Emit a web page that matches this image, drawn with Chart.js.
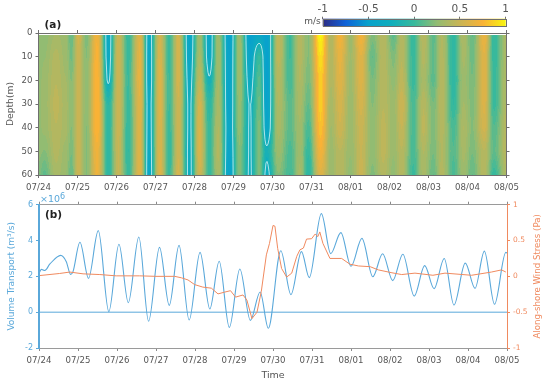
<!DOCTYPE html>
<html>
<head>
<meta charset="utf-8">
<title>Velocity and volume transport</title>
<script src="https://cdn.jsdelivr.net/npm/chart.js@4"></script>
<style>
    body { margin: 0; background: #fff; }
    canvas { position: absolute; left: 0; }
</style>
</head>
<body>
<canvas id="graficoA" width="550" height="197" style="top:0"></canvas>
<canvas id="graficoB" width="550" height="191" style="top:190px"></canvas>
<canvas id="barraCor" width="550" height="30" style="top:0"></canvas>
<script>
// labels of the time axis, one per day
const dateLabels = ['07/24', '07/25', '07/26', '07/27', '07/28', '07/29', '07/30', '07/31', '08/01', '08/02', '08/03', '08/04', '08/05'];

// panel (a): velocity read at each stripe of the picture (days since 07/24, depth in m)
const heatDays = [0, .15, .45, .7, .84, 1.02, 1.23, 1.5, 1.79, 2.05, 2.3, 2.6, 2.83, 3.11, 3.35, 3.59, 3.87, 4.13, 4.38, 4.61, 4.89, 5.15, 5.42, 5.66, 5.85, 6.15, 6.45, 6.7, 6.92, 7.23, 7.5, 7.73, 8, 8.27, 8.56, 8.84, 9.1, 9.31, 9.61, 9.87, 10.12, 10.34, 10.64, 10.9, 11.12, 11.43, 11.68, 12];
const depths = [1, 10, 20, 30, 40, 50, 60];
const speedAt1m = [.25, .25, .33, .3, .12, .55, .2, .72, -.38, .5, -.02, .62, -.38, .55, 0, .55, -.45, .3, -.42, .3, -.5, .3, -.5, -.4, -.5, .45, .02, .42, .22, 1, .38, .72, .3, .72, .2, .42, .1, .4, -.02, .42, .1, .38, -.05, .38, .12, .68, -.02, .35];
const speedAt10m = [.25, .27, .4, .3, .16, .5, .22, .75, -.36, .52, 0, .65, -.4, .58, 0, .55, -.42, .35, -.4, .32, -.48, .32, -.45, 0, -.5, .45, .02, .4, .22, .92, .4, .65, .32, .62, .12, .42, .2, .42, 0, .4, .12, .4, -.05, .35, .15, .62, -.02, .35];
const speedAt20m = [.25, .3, .42, .33, .22, .5, .25, .78, -.28, .52, .02, .65, -.4, .6, .02, .55, -.35, .45, -.22, .33, -.46, .3, -.35, .1, -.5, .4, .03, .38, .18, .85, .38, .62, .3, .6, .18, .42, .25, .45, 0, .35, .1, .42, -.05, .3, .18, .62, 0, .38];
const speedAt30m = [.25, .3, .45, .35, .25, .5, .25, .78, -.08, .52, 0, .62, -.35, .6, .02, .52, -.3, .55, -.05, .35, -.45, .28, -.26, .15, -.48, .38, .1, .35, .12, .85, .35, .55, .3, .55, .22, .42, .3, .52, .05, .42, .18, .42, -.03, .33, .2, .6, 0, .38];
const speedAt40m = [.25, .3, .42, .35, .22, .5, .22, .78, -.05, .5, -.02, .6, -.36, .58, 0, .5, -.3, .58, -.02, .38, -.42, .25, -.27, .2, -.42, .35, .1, .32, .05, .82, .32, .52, .3, .5, .25, .45, .28, .48, .05, .45, .2, .4, .05, .38, .22, .55, .08, .42];
const speedAt50m = [.25, .22, .4, .3, .18, .5, .22, .7, -.05, .48, -.03, .6, -.38, .58, -.02, .52, -.32, .58, 0, .4, -.45, .22, -.27, .2, -.2, .3, .05, .3, -.02, .72, .3, .42, .28, .48, .25, .45, .28, .42, .05, .38, .18, .38, .08, .35, .18, .42, .12, .42];
const speedAt60m = [.2, .1, .35, .28, .12, .52, .22, .68, -.05, .48, 0, .62, -.4, .6, 0, .55, -.32, .52, 0, .35, -.48, .22, -.28, .2, -.32, .22, .02, .35, -.08, .6, .3, .42, .25, .5, .2, .4, .25, .4, 0, .35, .12, .4, .05, .3, .12, .42, -.02, .38];
const speedRows = [speedAt1m, speedAt10m, speedAt20m, speedAt30m, speedAt40m, speedAt50m, speedAt60m];

// colour scale of the bar, and the level of the white contour
const colorValues = [-1, -.75, -.5, -.25, 0, .25, .5, .75, 1];
const colorStops = [[44, 42, 133], [15, 98, 216], [8, 162, 204], [16, 174, 188], [56, 185, 156], [146, 188, 114], [201, 180, 84], [249, 178, 54], [248, 245, 15]];
const contourLevel = -.25;

// panel (b): volume transport (x 10^6 m3/s), extremes
const transportDays = [0, .06, .15, .28, .556, .7, .81, .87, 1.05, 1.27, 1.52, 1.79, 2.05, 2.29, 2.56, 2.81, 3.09, 3.34, 3.59, 3.85, 4.13, 4.38, 4.62, 4.88, 5.15, 5.42, 5.67, 5.88, 6.2, 6.46, 6.73, 6.93, 7.24, 7.48, 7.74, 8, 8.28, 8.56, 8.81, 9.07, 9.33, 9.62, 9.89, 10.13, 10.39, 10.64, 10.93, 11.18, 11.42, 11.68, 11.97, 12];
const transport = [2.17, 2.39, 2.33, 2.69, 3.17, 2.82, 2.11, 2.25, 3.9, 1.89, 4.55, .03, 3.79, .53, 4.2, -.51, 3.62, .38, 3.73, -.44, 3.34, .18, 2.84, -.85, 2.41, -.46, 1.13, -.9, 3.43, .98, 3.38, 1.93, 5.5, 3.27, 4.44, 2.56, 4.12, 1.98, 3.26, 1.76, 3.23, .9, 2.6, 1.31, 3, .4, 2.74, 1.33, 3.41, .44, 3.34, 3.3];
// along-shore wind stress (Pa)
const windDays = [0, .53, .79, 1.13, 1.56, 1.98, 2.58, 3, 3.48, 3.65, 3.82, 3.99, 4.2, 4.42, 4.59, 4.76, 4.91, 5.04, 5.23, 5.33, 5.46, 5.59, 5.7, 5.83, 5.91, 6, 6.05, 6.12, 6.22, 6.35, 6.48, 6.61, 6.69, 6.78, 6.86, 6.99, 7.08, 7.15, 7.2, 7.28, 7.46, 7.59, 7.76, 7.97, 8.19, 8.49, 8.7, 9.05, 9.3, 9.64, 10.1, 10.41, 11.09, 11.6, 11.86, 11.97];
const windStress = [.01, .04, .06, .035, .025, .007, .007, 0, 0, -.02, -.05, -.115, -.15, -.165, -.245, -.22, -.2, -.29, -.26, -.33, -.59, -.5, -.21, .3, .46, .71, .7, .39, .11, -.01, .045, .28, .37, .395, .52, .525, .59, .555, .62, .46, .25, .25, .25, .17, .145, .135, .09, .05, .025, .045, .015, .045, .015, .06, .09, .06];

const baseFont = '"DejaVu Sans"';
const corEixo = '#6f6f6f';
const corTexto = '#555555';
const corAzul = '#5aa8da';
const corLaranja = '#f08a5f';

function pontos(xs, ys) {
    return xs.map(function (x, i) { return { x: x, y: ys[i] }; });
}

function corDoValor(v) {
    v = Math.max(-1, Math.min(1, v));
    let i = 0;
    while (i < colorValues.length - 2 && v > colorValues[i + 1]) i++;
    const u = (v - colorValues[i]) / (colorValues[i + 1] - colorValues[i]);
    return colorStops[i].map(function (c, k) { return c + (colorStops[i + 1][k] - c) * u; });
}

function acharIntervalo(lista, v) {
    let i = 0;
    while (i < lista.length - 2 && v > lista[i + 1]) i++;
    return i;
}

// value of the field at a day and a depth, read from the rows of the dataset
function valorCampo(linhas, dia, prof) {
    const c = acharIntervalo(heatDays, dia);
    const r = acharIntervalo(depths, prof);
    let ux = (dia - heatDays[c]) / (heatDays[c + 1] - heatDays[c]);
    ux = (1 - Math.cos(Math.PI * Math.max(0, Math.min(1, ux)))) / 2;
    const uy = Math.max(0, Math.min(1, (prof - depths[r]) / (depths[r + 1] - depths[r])));
    const cima = linhas[r][c].v + (linhas[r][c + 1].v - linhas[r][c].v) * ux;
    const baixo = linhas[r + 1][c].v + (linhas[r + 1][c + 1].v - linhas[r + 1][c].v) * ux;
    return cima + (baixo - cima) * uy;
}

// paints the cells of panel (a) using the chart scales, then the white contour
const pluginCampo = {
    id: 'campo',
    beforeDatasetsDraw(chart) {
        const ctx = chart.ctx;
        const x = chart.scales.x;
        const y = chart.scales.y;
        const linhas = chart.data.datasets.map(function (d) { return d.data; });
        const esq = Math.round(x.getPixelForValue(0));
        const dir = Math.round(x.getPixelForValue(12));
        const topo = Math.round(y.getPixelForValue(depths[0]));
        const base = Math.round(y.getPixelForValue(60));
        const w = dir - esq;
        const h = base - topo;

        const campo = [];
        for (let j = 0; j <= h; j++) {
            const prof = y.getValueForPixel(topo + j);
            const linha = [];
            for (let i = 0; i <= w; i++) {
                linha.push(valorCampo(linhas, x.getValueForPixel(esq + i), prof));
            }
            campo.push(linha);
        }

        const tela = document.createElement('canvas');
        tela.width = w;
        tela.height = h;
        const t = tela.getContext('2d');
        const img = t.createImageData(w, h);
        for (let j = 0; j < h; j++) {
            for (let i = 0; i < w; i++) {
                const v = (campo[j][i] + campo[j][i + 1] + campo[j + 1][i] + campo[j + 1][i + 1]) / 4;
                const cor = corDoValor(Math.round(v / .05) * .05);
                const p = (j * w + i) * 4;
                img.data[p] = cor[0];
                img.data[p + 1] = cor[1];
                img.data[p + 2] = cor[2];
                img.data[p + 3] = 255;
            }
        }
        t.putImageData(img, 0, 0);

        ctx.save();
        ctx.filter = 'blur(0.5px)';
        ctx.drawImage(tela, esq, topo);
        ctx.restore();

        // marching squares over the same grid, drawn sharp on top of the cells
        ctx.save();
        ctx.translate(esq, topo);
        ctx.strokeStyle = 'rgba(226,246,246,0.85)';
        ctx.lineWidth = 0.9;
        ctx.beginPath();
        const cruza = function (a, b) { return (contourLevel - a) / (b - a); };
        for (let j = 0; j < h; j++) {
            for (let i = 0; i < w; i++) {
                const a = campo[j][i], b = campo[j][i + 1], c = campo[j + 1][i + 1], d = campo[j + 1][i];
                const p = [];
                if ((a < contourLevel) !== (b < contourLevel)) p.push([i + cruza(a, b), j]);
                if ((b < contourLevel) !== (c < contourLevel)) p.push([i + 1, j + cruza(b, c)]);
                if ((d < contourLevel) !== (c < contourLevel)) p.push([i + cruza(d, c), j + 1]);
                if ((a < contourLevel) !== (d < contourLevel)) p.push([i, j + cruza(a, d)]);
                if (p.length >= 2) {
                    ctx.moveTo(p[0][0], p[0][1]);
                    ctx.lineTo(p[1][0], p[1][1]);
                }
            }
        }
        ctx.stroke();
        ctx.restore();
    }
};

const pluginTextoA = {
    id: 'textoA',
    afterDraw(chart) {
        const ctx = chart.ctx;
        ctx.save();
        ctx.fillStyle = '#222';
        ctx.font = 'bold 10.5px ' + baseFont;
        ctx.textBaseline = 'middle';
        ctx.fillText('(a)', chart.chartArea.left + 6, 25.5);
        ctx.restore();
    }
};

const pluginTextoB = {
    id: 'textoB',
    afterDraw(chart) {
        const ctx = chart.ctx;
        const area = chart.chartArea;
        ctx.save();
        ctx.fillStyle = '#222';
        ctx.font = 'bold 10.5px ' + baseFont;
        ctx.textBaseline = 'middle';
        ctx.fillText('(b)', area.left + 6, 25.7);

        ctx.fillStyle = corAzul;
        ctx.font = '9.5px ' + baseFont;
        ctx.fillText('\u00d710', area.left + 1, 10);
        ctx.font = '8px ' + baseFont;
        ctx.fillText('6', area.left + 21, 7);

        // right title reads bottom to top, which the axis title cannot do
        ctx.fillStyle = corLaranja;
        ctx.font = '8.6px ' + baseFont;
        ctx.textAlign = 'center';
        ctx.translate(538, (area.top + area.bottom) / 2);
        ctx.rotate(-Math.PI / 2);
        ctx.fillText('Along-shore Wind Stress (Pa)', 0, 0);
        ctx.restore();
    }
};

const pluginBarra = {
    id: 'barra',
    beforeDatasetsDraw(chart) {
        const ctx = chart.ctx;
        const x = chart.scales.x;
        const area = chart.chartArea;
        const grad = ctx.createLinearGradient(x.getPixelForValue(-1), 0, x.getPixelForValue(1), 0);
        colorValues.forEach(function (v, i) {
            grad.addColorStop((v + 1) / 2, 'rgb(' + colorStops[i].join(',') + ')');
        });
        ctx.save();
        ctx.fillStyle = grad;
        ctx.fillRect(area.left, area.top, area.right - area.left, area.bottom - area.top);
        ctx.strokeStyle = corEixo;
        ctx.strokeRect(Math.round(area.left) + .5, Math.round(area.top) + .5, Math.round(area.right - area.left), Math.round(area.bottom - area.top) - 1);
        ctx.fillStyle = corTexto;
        ctx.font = '9px ' + baseFont;
        ctx.textAlign = 'right';
        ctx.textBaseline = 'middle';
        ctx.fillText('m/s', area.left - 2, 21.5);
        ctx.restore();
    }
};

function eixoDias(posicao, tamanho, comTexto, opcoes) {
    return Object.assign({
        type: 'linear',
        position: posicao,
        min: 0,
        max: 12,
        afterFit(s) { s.height = tamanho; },
        grid: { drawOnChartArea: false, tickLength: 3, tickColor: corEixo, z: 1 },
        border: { color: corEixo, z: 1 },
        ticks: {
            display: comTexto,
            stepSize: 1,
            autoSkip: false,
            maxRotation: 0,
            padding: 5,
            color: corTexto,
            font: { family: baseFont, size: 8.6 },
            callback: function (v) { return dateLabels[v]; }
        }
    }, opcoes || {});
}

function plotarGraficoA() {
    const linhas = speedRows.map(function (valores, r) {
        return {
            label: depths[r] + ' m',
            data: heatDays.map(function (d, i) { return { x: d, y: depths[r], v: valores[i] }; }),
            showLine: false,
            pointRadius: 0
        };
    });

    new Chart(document.getElementById('graficoA'), {
        type: 'scatter',
        data: { datasets: linhas },
        options: {
            responsive: false,
            animation: false,
            devicePixelRatio: 1,
            layout: { padding: 0 },
            plugins: { legend: { display: false }, tooltip: { enabled: false } },
            scales: {
                x: eixoDias('bottom', 22, true),
                x2: eixoDias('top', 33, false),
                y: {
                    type: 'linear',
                    position: 'left',
                    reverse: true,
                    min: 0,
                    max: 60,
                    afterFit(s) { s.width = 38.5; },
                    grid: { drawOnChartArea: false, tickLength: 3, tickColor: corEixo, z: 1 },
                    border: { color: corEixo, z: 1 },
                    ticks: { stepSize: 10, padding: 3, color: corTexto, font: { family: baseFont, size: 8.6 } },
                    title: { display: true, text: 'Depth(m)', color: corTexto, font: { family: baseFont, size: 9.2 }, padding: { top: 5.5, bottom: 0 } }
                },
                y2: {
                    type: 'linear',
                    position: 'right',
                    reverse: true,
                    min: 0,
                    max: 60,
                    afterFit(s) { s.width = 43.5; },
                    grid: { drawOnChartArea: false, tickLength: 3, tickColor: corEixo, z: 1 },
                    border: { color: corEixo, z: 1 },
                    ticks: { display: false, stepSize: 10 }
                }
            }
        },
        plugins: [pluginCampo, pluginTextoA]
    });
}

function plotarGraficoB() {
    new Chart(document.getElementById('graficoB'), {
        type: 'scatter',
        data: {
            datasets: [
                {
                    label: 'Along-shore Wind Stress',
                    data: pontos(windDays, windStress),
                    yAxisID: 'y2',
                    showLine: true,
                    borderColor: corLaranja,
                    borderWidth: 1,
                    pointRadius: 0
                },
                {
                    label: 'Volume Transport',
                    data: pontos(transportDays, transport),
                    yAxisID: 'y',
                    showLine: true,
                    cubicInterpolationMode: 'monotone',
                    borderColor: corAzul,
                    borderWidth: 1.1,
                    pointRadius: 0
                },
                {
                    label: 'zero',
                    data: pontos([0, 12], [0, 0]),
                    yAxisID: 'y',
                    showLine: true,
                    borderColor: corAzul,
                    borderWidth: 1,
                    pointRadius: 0
                }
            ]
        },
        options: {
            responsive: false,
            animation: false,
            devicePixelRatio: 1,
            layout: { padding: 0 },
            plugins: { legend: { display: false }, tooltip: { enabled: false } },
            scales: {
                x: eixoDias('bottom', 33, true, {
                    grid: { drawOnChartArea: false, tickLength: 3, tickColor: '#8a8a8a', z: 1 },
                    border: { color: '#9a9a9a', z: 1 },
                    title: { display: true, text: 'Time', color: corTexto, font: { family: baseFont, size: 9.5 }, padding: { top: 4.5, bottom: 0 } }
                }),
                x2: eixoDias('top', 14.7, false, {
                    grid: { drawOnChartArea: false, tickLength: 3, tickColor: '#8a8a8a', z: 1 },
                    border: { color: '#9a9a9a', z: 1 }
                }),
                y: {
                    type: 'linear',
                    position: 'left',
                    min: -2,
                    max: 6,
                    afterFit(s) { s.width = 39; },
                    grid: { drawOnChartArea: false, tickLength: 3, tickColor: corAzul, z: 1 },
                    border: { color: corAzul, width: 2, z: 1 },
                    ticks: { stepSize: 2, padding: 3, color: corAzul, font: { family: baseFont, size: 8 } },
                    title: { display: true, text: 'Volume Transport (m\u00b3/s)', color: corAzul, font: { family: baseFont, size: 9 }, padding: { top: 6.5, bottom: 0 } }
                },
                y2: {
                    type: 'linear',
                    position: 'right',
                    min: -1,
                    max: 1,
                    afterFit(s) { s.width = 43; },
                    grid: { drawOnChartArea: false, tickLength: 3, tickColor: corLaranja, z: 1 },
                    border: { color: corLaranja, z: 1 },
                    ticks: {
                        stepSize: .5,
                        padding: 3,
                        color: corLaranja,
                        font: { family: baseFont, size: 7.5 },
                        callback: function (v) { return String(v); }
                    }
                }
            }
        },
        plugins: [pluginTextoB]
    });
}

function plotarBarraCor() {
    new Chart(document.getElementById('barraCor'), {
        type: 'scatter',
        data: { datasets: [] },
        options: {
            responsive: false,
            animation: false,
            devicePixelRatio: 1,
            layout: { padding: { left: 322.7, right: 44.3, bottom: 3.7 } },
            plugins: { legend: { display: false }, tooltip: { enabled: false } },
            scales: {
                x: {
                    type: 'linear',
                    position: 'top',
                    min: -1,
                    max: 1,
                    afterFit(s) { s.height = 18.7; },
                    grid: { drawOnChartArea: false, tickLength: 2, tickColor: corEixo },
                    border: { display: false },
                    ticks: {
                        stepSize: .5,
                        padding: 1,
                        color: corTexto,
                        font: { family: baseFont, size: 10.5 },
                        callback: function (v) { return String(v); }
                    }
                },
                y: { display: false }
            }
        },
        plugins: [pluginBarra]
    });
}

plotarGraficoA();
plotarGraficoB();
plotarBarraCor();
</script>
</body>
</html>
